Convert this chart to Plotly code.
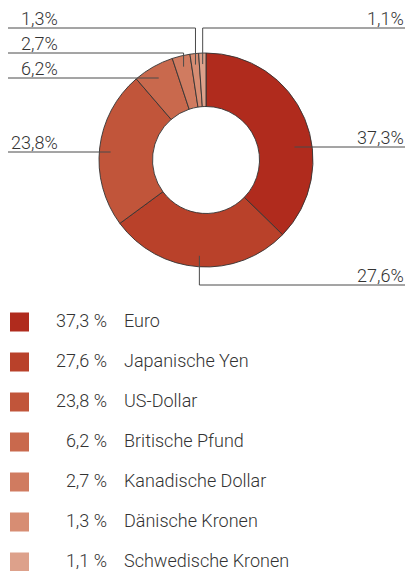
import math
import plotly.graph_objects as go

# ---- data ----
currencies = ["Euro", "Japanische Yen", "US-Dollar", "Britische Pfund",
              "Kanadische Dollar", "Dänische Kronen", "Schwedische Kronen"]
shares = [37.3, 27.6, 23.8, 6.2, 2.7, 1.3, 1.1]
colors = ["#B02B1D", "#B9412A", "#C1553A", "#C9694D", "#D07B60", "#D78D73", "#DDA18B"]

# ---- layout constants (pixels) ----
W, H = 409, 571
CX, CY, R = 206, 160, 107
TXT = "#333333"
FONT = "Roboto"
# label placement per slice: side, y of the leader line, style
label_side = ["R", "R", "L", "L", "L", "L", "R"]
label_line_y = [147, 285, 152, 78, 53, 28, 28]
label_style = ["flat", "elbow", "flat", "flat", "elbow", "elbow", "elbow"]
LEFT_EDGE, RIGHT_EDGE, LEFT_TEXT_X = 8, 405, 59


def fmt(v):
    return f"{v:.1f}".replace(".", ",")


fig = go.Figure()

fig.add_trace(go.Pie(
    labels=currencies, values=shares, sort=False, direction="clockwise",
    rotation=0, hole=0.5, textinfo="none", hoverinfo="label+percent",
    marker=dict(colors=colors, line=dict(color="#333333", width=0.9)),
    domain=dict(x=[(CX - R) / W, (CX + R) / W], y=[1 - (CY + R) / H, 1 - (CY - R) / H]),
    showlegend=False,
))

# leader lines + labels computed from slice angles
total = sum(shares)
cum = 0.0
annotations = []
shapes = []
for i, v in enumerate(shares):
    mid = (cum + v / 2) / total
    cum += v
    th = 2 * math.pi * mid
    ra = 96
    ax = CX + ra * math.sin(th)
    ay = CY - ra * math.cos(th)
    ly = label_line_y[i]
    edge = RIGHT_EDGE if label_side[i] == "R" else LEFT_EDGE
    if label_style[i] == "elbow":
        path = f"M {ax:.2f},{ay:.2f} L {ax:.2f},{ly} L {edge},{ly}"
    else:
        path = f"M {ax:.2f},{ly} L {edge},{ly}"
    shapes.append(dict(type="path", path=path, xref="x", yref="y", layer="above",
                       line=dict(color="#4a4a4a", width=1)))
    tx = RIGHT_EDGE if label_side[i] == "R" else LEFT_TEXT_X
    annotations.append(dict(x=tx, y=ly + 2, xref="x", yref="y", text=fmt(v) + "%",
                            showarrow=False, xanchor="right", yanchor="bottom",
                            font=dict(family=FONT, size=18, color=TXT, weight=300),
                            borderpad=0))

# legend drawn as a scatter
rows = [322 + 40 * i for i in range(len(currencies))]
fig.add_trace(go.Scatter(x=[19.5] * len(rows), y=rows, mode="markers", hoverinfo="skip",
                         marker=dict(symbol="square", size=19, color=colors, line=dict(width=0)),
                         showlegend=False))
fig.add_trace(go.Scatter(x=[107] * len(rows), y=rows, mode="text", hoverinfo="skip",
                         text=[fmt(v) + " %" for v in shares], textposition="middle left",
                         textfont=dict(family=FONT, size=18, color=TXT, weight=300),
                         showlegend=False))
fig.add_trace(go.Scatter(x=[124] * len(rows), y=rows, mode="text", hoverinfo="skip",
                         text=currencies, textposition="middle right",
                         textfont=dict(family=FONT, size=18, color=TXT, weight=300),
                         showlegend=False))

fig.update_layout(
    width=W, height=H, margin=dict(l=0, r=0, t=0, b=0),
    paper_bgcolor="white", plot_bgcolor="white",
    xaxis=dict(range=[0, W], visible=False, fixedrange=True),
    yaxis=dict(range=[H, 0], visible=False, fixedrange=True),
    annotations=annotations, shapes=shapes,
)

fig.write_html("out.html", config={"displayModeBar": False},
               post_script="document.body.style.margin='0';")
